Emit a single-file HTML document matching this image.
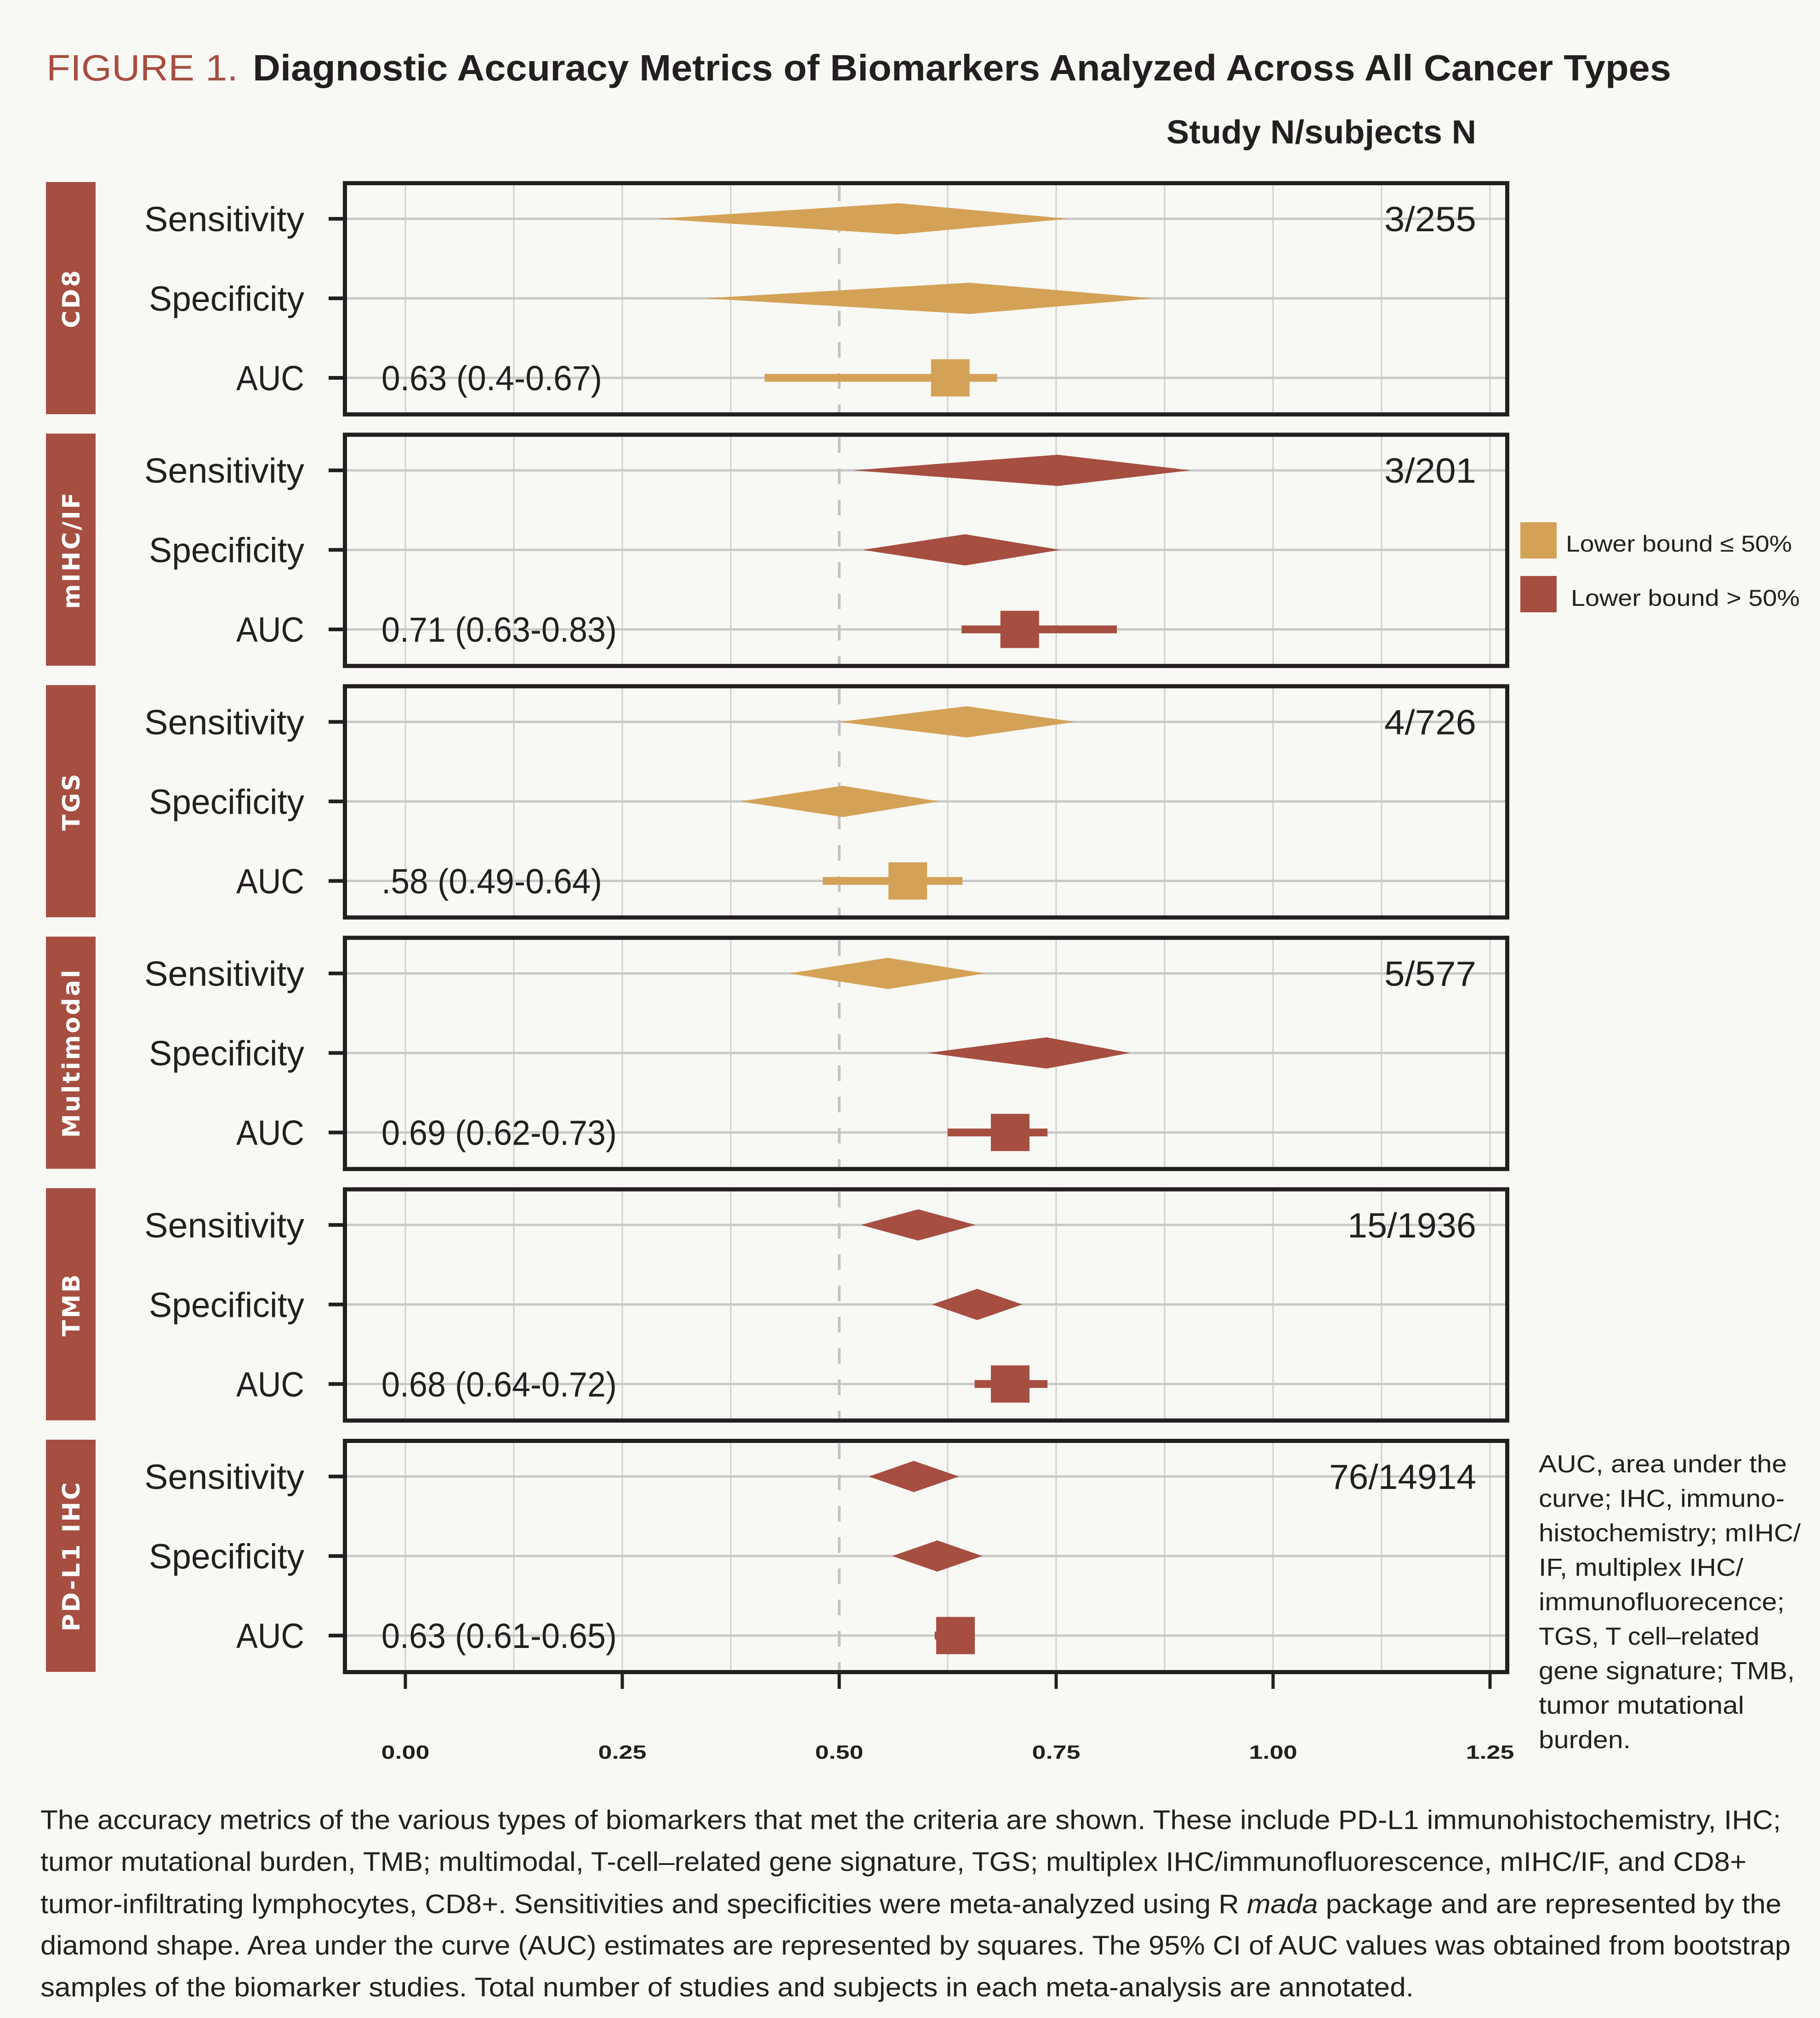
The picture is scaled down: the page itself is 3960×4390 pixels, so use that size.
<!DOCTYPE html>
<html><head><meta charset="utf-8">
<style>
html,body{margin:0;padding:0;background:#f8f8f4;}
svg{display:block;}
text{font-family:"Liberation Sans Narrow","Liberation Sans",sans-serif;fill:#231f20;}
</style></head>
<body>
<svg id="chart" width="3960" height="4390" viewBox="0 0 3960 4390" xmlns="http://www.w3.org/2000/svg">
<rect x="0" y="0" width="3960" height="4390" fill="#f8f8f4"/>
<text x="101" y="175" font-size="80" fill="#a64e40" style="fill:#a64e40" textLength="417" lengthAdjust="spacingAndGlyphs">FIGURE 1.</text>
<text x="550" y="175" font-size="80" font-weight="bold" textLength="3086" lengthAdjust="spacingAndGlyphs">Diagnostic Accuracy Metrics of Biomarkers Analyzed Across All Cancer Types</text>
<text x="2538" y="312" font-size="72" font-weight="bold" textLength="674" lengthAdjust="spacingAndGlyphs">Study N/subjects N</text>
<g id="panels"></g>
<g id="xaxis"></g>
<g>
<rect x="3308" y="1136" width="79" height="79" fill="#d4a257"/>
<text x="3407" y="1200" font-size="50" textLength="492" lengthAdjust="spacingAndGlyphs">Lower bound ≤ 50%</text>
<rect x="3308" y="1253" width="79" height="79" fill="#a64e40"/>
<text x="3418" y="1318" font-size="50" textLength="498" lengthAdjust="spacingAndGlyphs">Lower bound &gt; 50%</text>
</g>
<g font-size="54">
<text x="3348" y="3203" style="font-family:'Liberation Sans',sans-serif" textLength="540" lengthAdjust="spacingAndGlyphs">AUC, area under the</text>
<text x="3348" y="3278" style="font-family:'Liberation Sans',sans-serif" textLength="535" lengthAdjust="spacingAndGlyphs">curve; IHC, immuno-</text>
<text x="3348" y="3353" style="font-family:'Liberation Sans',sans-serif" textLength="570" lengthAdjust="spacingAndGlyphs">histochemistry; mIHC/</text>
<text x="3348" y="3428" style="font-family:'Liberation Sans',sans-serif" textLength="445" lengthAdjust="spacingAndGlyphs">IF, multiplex IHC/</text>
<text x="3348" y="3503" style="font-family:'Liberation Sans',sans-serif" textLength="535" lengthAdjust="spacingAndGlyphs">immunofluorecence;</text>
<text x="3348" y="3578" style="font-family:'Liberation Sans',sans-serif" textLength="480" lengthAdjust="spacingAndGlyphs">TGS, T cell–related</text>
<text x="3348" y="3653" style="font-family:'Liberation Sans',sans-serif" textLength="557" lengthAdjust="spacingAndGlyphs">gene signature; TMB,</text>
<text x="3348" y="3728" style="font-family:'Liberation Sans',sans-serif" textLength="447" lengthAdjust="spacingAndGlyphs">tumor mutational</text>
<text x="3348" y="3803" style="font-family:'Liberation Sans',sans-serif" textLength="200" lengthAdjust="spacingAndGlyphs">burden.</text>
</g>
<g font-size="58">
<text x="88" y="3979" textLength="3787" lengthAdjust="spacingAndGlyphs">The accuracy metrics of the various types of biomarkers that met the criteria are shown. These include PD-L1 immunohistochemistry, IHC;</text>
<text x="88" y="4070" textLength="3712" lengthAdjust="spacingAndGlyphs">tumor mutational burden, TMB; multimodal, T-cell–related gene signature, TGS; multiplex IHC/immunofluorescence, mIHC/IF, and CD8+</text>
<text x="88" y="4162" textLength="3788" lengthAdjust="spacingAndGlyphs">tumor-infiltrating lymphocytes, CD8+. Sensitivities and specificities were meta-analyzed using R <tspan font-style="italic">mada</tspan> package and are represented by the</text>
<text x="88" y="4252" textLength="3808" lengthAdjust="spacingAndGlyphs">diamond shape. Area under the curve (AUC) estimates are represented by squares. The 95% CI of AUC values was obtained from bootstrap</text>
<text x="88" y="4343" textLength="2988" lengthAdjust="spacingAndGlyphs">samples of the biomarker studies. Total number of studies and subjects in each meta-analysis are annotated.</text>
</g>
</svg>
<script>
// ---- data ----
const biomarkers = ["CD8","mIHC/IF","TGS","Multimodal","TMB","PD-L1 IHC"];
const studyCounts = ["3/255","3/201","4/726","5/577","15/1936","76/14914"];
const aucLabels = ["0.63 (0.4-0.67)","0.71 (0.63-0.83)",".58 (0.49-0.64)","0.69 (0.62-0.73)","0.68 (0.64-0.72)","0.63 (0.61-0.65)"];
const sensEst = [0.568,0.752,0.647,0.556,0.591,0.586];
const sensLow = [0.289,0.516,0.500,0.442,0.525,0.534];
const sensHigh = [0.764,0.905,0.772,0.668,0.657,0.638];
const specEst = [0.650,0.645,0.504,0.739,0.659,0.613];
const specLow = [0.344,0.527,0.386,0.602,0.607,0.561];
const specHigh = [0.862,0.755,0.615,0.835,0.711,0.665];
const aucEst = [0.628,0.708,0.579,0.697,0.697,0.634];
const aucLow = [0.414,0.641,0.481,0.625,0.656,0.610];
const aucHigh = [0.682,0.820,0.642,0.740,0.740,0.650];
const sensGroup = ["le","gt","le","le","gt","gt"];
const specGroup = ["le","gt","le","gt","gt","gt"];
const aucGroup = ["le","gt","le","gt","gt","gt"];
const rowLabels = ["Sensitivity","Specificity","AUC"];
const xTicks = [0,0.25,0.5,0.75,1.0,1.25];
const xTickLabels = ["0.00","0.25","0.50","0.75","1.00","1.25"];

// ---- scales ----
const NS="http://www.w3.org/2000/svg";
const X0=882, XU=1888;
function xs(v){return X0+v*XU;}
function panelTop(i){return 394+i*547.2;}
function rowY(i,r){return panelTop(i)+82+r*173;}
const GOLD="#d4a257", RED="#a64e40";
function col(g){return g==="le"?GOLD:RED;}
function mk(tag,attrs,parent){const e=document.createElementNS(NS,tag);for(const k in attrs)e.setAttribute(k,attrs[k]);parent.appendChild(e);return e;}

const panels=document.getElementById('panels');
biomarkers.forEach((name,i)=>{
  const top=panelTop(i);
  const g=mk('g',{},panels);
  
  
  const strip=mk('rect',{x:100,y:top+2,width:108,height:505,fill:RED},g);
  
  
  const st=mk('text',{x:0,y:0,'font-size':52,'font-weight':'bold','text-anchor':'middle',
    transform:`translate(173,${top+255}) rotate(-90)`,style:"fill:#fff;font-family:'DejaVu Sans',sans-serif;letter-spacing:4px"},g);
  st.textContent=name;
  
  
  for(let k=0;k<=10;k++){
    const v=k*0.125;
    if(Math.abs(v-0.5)<1e-9) continue;
    const l=mk('line',{x1:xs(v),x2:xs(v),y1:top+8,y2:top+504,stroke:'#d0d0d0','stroke-width':3},g);
    
    
  }
  rowLabels.forEach((lab,r)=>{
    const y=rowY(i,r);
    const hl=mk('line',{x1:755,x2:3280,y1:y,y2:y,stroke:'#c8c8c8','stroke-width':5},g);
    
    
    const tk=mk('rect',{x:715,y:y-4,width:35,height:8,fill:'#231f20'},g);
    
    
    const w = lab==="Sensitivity"?348:(lab==="Specificity"?338:148);
    const t=mk('text',{x:662,y:y+27,'font-size':76,'text-anchor':'end',textLength:w,lengthAdjust:'spacingAndGlyphs',style:'font-weight:300'},g);
    t.textContent=lab;
    
    
  });
  const dl=mk('line',{x1:xs(0.5),x2:xs(0.5),y1:top+10,y2:top+504,stroke:'#c4c4c4','stroke-width':6,'stroke-dasharray':'34 34'},g);
  
  
  const dh=34;
  [[sensLow,sensEst,sensHigh,sensGroup,0,'sensitivity-diamond'],[specLow,specEst,specHigh,specGroup,1,'specificity-diamond']].forEach(([lo,es,hi,gr,r,nm])=>{
    const y=rowY(i,r);
    const p=mk('polygon',{points:`${xs(lo[i])},${y} ${xs(es[i])},${y-dh} ${xs(hi[i])},${y} ${xs(es[i])},${y+dh}`,fill:col(gr[i])},g);
    
    
  });
  const ya=rowY(i,2);
  const ci=mk('rect',{x:xs(aucLow[i]),y:ya-8.5,width:xs(aucHigh[i])-xs(aucLow[i]),height:17,fill:col(aucGroup[i])},g);
  
  
  const sq=mk('rect',{x:xs(aucEst[i])-42,y:ya-40.5,width:84,height:81,fill:col(aucGroup[i])},g);
  
  
  const at=mk('text',{x:830,y:ya+27,'font-size':76,textLength:aucLabels[i].length*32,lengthAdjust:'spacingAndGlyphs'},g);
  at.textContent=aucLabels[i];
  
  
  const sc=mk('text',{x:3212,y:rowY(i,0)+27,'font-size':76,'text-anchor':'end',textLength:studyCounts[i].length*40,lengthAdjust:'spacingAndGlyphs'},g);
  sc.textContent=studyCounts[i];
  
  
  const b=mk('rect',{x:750.5,y:top+4.5,width:2529,height:503,fill:'none',stroke:'#231f20','stroke-width':9},g);
  
  
});
const xa=document.getElementById('xaxis');


const axBottom=panelTop(5)+512;
xTicks.forEach((v,k)=>{
  const l=mk('line',{x1:xs(v),x2:xs(v),y1:axBottom-2,y2:axBottom+32,stroke:'#231f20','stroke-width':7},xa);
  
  
  const t=mk('text',{x:xs(v),y:3826,'font-size':42,'font-weight':'bold','text-anchor':'middle',textLength:105,lengthAdjust:'spacingAndGlyphs'},xa);
  t.textContent=xTickLabels[k];
  
  
});
</script>
</body></html>
